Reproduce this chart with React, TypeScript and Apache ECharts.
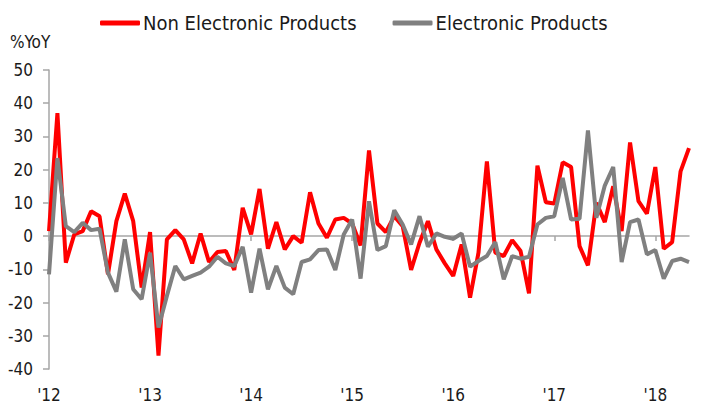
import React, { useEffect, useRef } from "react";
import * as echarts from "echarts";

const years = [2012, 2013, 2014, 2015, 2016, 2017, 2018];
const months = ["01", "02", "03", "04", "05", "06", "07", "08", "09", "10", "11", "12"];
// Jan 2012 .. May 2018 (77 months)
const categories: string[] = [];
years.forEach((y) => months.forEach((m) => categories.push(`${y}-${m}`)));
categories.splice(77);

const nonElectronic = [
  1.5, 37, -8, 0.5, 1.5, 7.5, 6, -11.5, 4.5, 12.8, 4.5, -15.5,
  1.2, -36, -1, 1.8, -1, -8.2, 0.8, -7.8, -4.8, -4.5, -10.2, 8.5,
  0.5, 14.2, -3.8, 4.2, -4, 0, -2, 13.2, 3.8, -0.5, 5, 5.5,
  3.8, -2.8, 25.8, 3.8, 1.2, 6, 3, -10.2, -2, 4.5, -4, -8.2,
  -12, -2.5, -18.5, -5, 22.5, -5, -6, -1.2, -4.5, -17.2, 21.2, 10.2,
  9.8, 22.2, 20.8, -3, -8.8, 10, 4.2, 15, 1.5, 28.2, 10.5, 6.8,
  20.8, -3.8, -1.8, 19.5, 26.5,
];

const electronic = [
  -11.5, 23.5, 3, 1.2, 4, 1.8, 2.2, -11, -16.7, -1, -16, -19,
  -5, -27.5, -18, -9, -13, -12, -11, -9.2, -6.2, -8.2, -9, -3.2,
  -17, -3.8, -16, -9, -15.5, -17.5, -7.8, -7, -4.2, -4, -10.2, 0.5,
  5, -12.8, 10.5, -4.2, -3, 7.8, 3.5, -2.5, 6, -3.2, 0.8, -0.2,
  -0.8, 0.8, -9.2, -7.5, -6, -1.8, -13, -6, -6.8, -6.2, 3.5, 5.5,
  6, 17.5, 5, 5.2, 31.8, 5.5, 15.2, 20.8, -7.8, 4.2, 5, -5.5,
  -4.2, -12.8, -7.5, -6.8, -7.8,
];

const yMin = -40;
const yMax = 50;
const yStep = 10;

const seriesNames = ["Non Electronic Products", "Electronic Products"];
const seriesColors = ["#ff0000", "#808080"];

const FONT = "'DejaVu Sans Condensed', 'DejaVu Sans', sans-serif";

export default function App() {
  const ref = useRef<HTMLDivElement>(null);
  useEffect(() => {
    if (!ref.current) return;
    const chart = echarts.init(ref.current, undefined, { renderer: "svg" });
    const labelFmt = (v: string) => (v.endsWith("-01") ? "'" + v.slice(2, 4) : "");
    chart.setOption({
      animation: false,
      textStyle: { fontFamily: FONT },
      legend: {
        top: 8,
        left: 95,
        itemWidth: 40,
        itemHeight: 5,
        itemGap: 36,
        icon: "roundRect",
        textStyle: { fontSize: 20, color: "#1a1a1a", fontFamily: FONT, padding: [0, 0, 0, -2] },
        data: seriesNames,
      },
      graphic: [
        {
          type: "text",
          left: 10,
          top: 33,
          style: { text: "%YoY", fontSize: 17, fill: "#1a1a1a", fontFamily: FONT },
        },
      ],
      grid: { left: 49, right: 16, top: 70, bottom: 40, containLabel: false },
      xAxis: [
        {
          type: "category",
          data: categories,
          boundaryGap: false,
          axisLine: { onZero: true, lineStyle: { color: "#a6a6a6", width: 1.5 } },
          axisTick: { show: true, interval: 11, length: 5, inside: false, lineStyle: { color: "#a6a6a6", width: 1.5 } },
          axisLabel: { show: false },
          splitLine: { show: false },
        },
        {
          type: "category",
          data: categories,
          boundaryGap: false,
          position: "bottom",
          axisLine: { show: false, onZero: false },
          axisTick: { show: false },
          axisLabel: {
            interval: 11,
            formatter: labelFmt,
            fontSize: 17,
            color: "#1a1a1a",
            margin: 17,
            fontFamily: FONT,
          },
          splitLine: { show: false },
        },
      ],
      yAxis: {
        type: "value",
        min: yMin,
        max: yMax,
        interval: yStep,
        axisLine: { show: true, lineStyle: { color: "#a6a6a6", width: 1.5 } },
        axisTick: { show: true, length: 6, lineStyle: { color: "#a6a6a6", width: 1.5 } },
        axisLabel: { fontSize: 17, color: "#1a1a1a", margin: 16, fontFamily: FONT },
        splitLine: { show: false },
      },
      series: [
        {
          name: seriesNames[0],
          type: "line",
          data: nonElectronic,
          showSymbol: false,
          symbol: "none",
          lineStyle: { color: seriesColors[0], width: 4 },
          itemStyle: { color: seriesColors[0] },
          z: 2,
        },
        {
          name: seriesNames[1],
          type: "line",
          data: electronic,
          showSymbol: false,
          symbol: "none",
          lineStyle: { color: seriesColors[1], width: 4 },
          itemStyle: { color: seriesColors[1] },
          z: 3,
        },
      ],
    });
    return () => chart.dispose();
  }, []);
  return <div ref={ref} style={{ width: 705, height: 409, position: "absolute", left: 0, top: 0 }} />;
}
